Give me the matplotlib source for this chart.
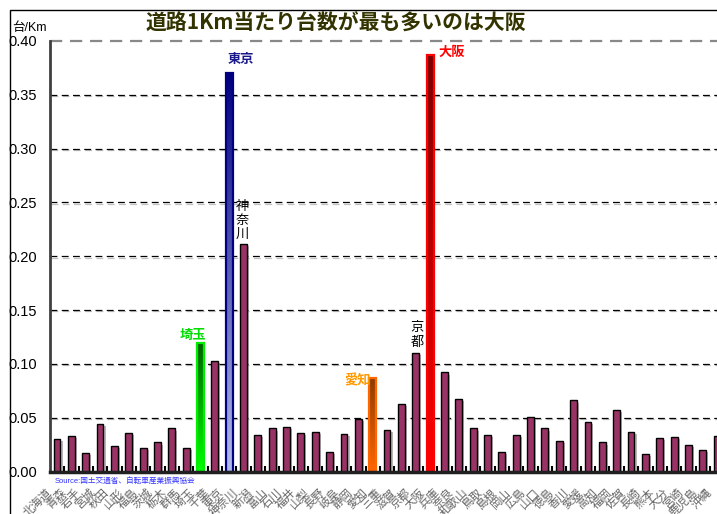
import numpy as np
import matplotlib
matplotlib.use("Agg")
import matplotlib.pyplot as plt
from matplotlib.patches import Rectangle
from matplotlib.colors import to_rgb
from matplotlib.transforms import ScaledTranslation
import matplotlib.patheffects as pe

plt.rcParams['font.family'] = ['Liberation Sans', 'Noto Sans CJK JP', 'DejaVu Sans']

# prefectures and cars per km of road
prefs = ['北海道', '青森', '岩手', '宮城', '秋田', '山形', '福島', '茨城', '栃木', '群馬',
         '埼玉', '千葉', '東京', '神奈川', '新潟', '富山', '石川', '福井', '山梨', '長野',
         '岐阜', '静岡', '愛知', '三重', '滋賀', '京都', '大阪', '兵庫', '奈良', '和歌山',
         '鳥取', '島根', '岡山', '広島', '山口', '徳島', '香川', '愛媛', '高知', '福岡',
         '佐賀', '長崎', '熊本', '大分', '宮崎', '鹿児島', '沖縄']
values = [0.030, 0.033, 0.017, 0.044, 0.024, 0.036, 0.022, 0.027, 0.040, 0.022,
          0.119, 0.103, 0.370, 0.211, 0.034, 0.040, 0.041, 0.036, 0.037, 0.018,
          0.035, 0.049, 0.087, 0.039, 0.063, 0.110, 0.387, 0.092, 0.067, 0.040,
          0.034, 0.018, 0.034, 0.051, 0.040, 0.028, 0.066, 0.046, 0.027, 0.057,
          0.037, 0.016, 0.031, 0.032, 0.025, 0.020, 0.033]
yticks = [0.00, 0.05, 0.10, 0.15, 0.20, 0.25, 0.30, 0.35, 0.40]

# highlighted bars: edge colour, gradient top, gradient bottom
highlight = {
    '埼玉': ('#00ee00', '#006000', '#00ff00'),
    '東京': ('#000080', '#000080', '#b4bbeb'),
    '愛知': ('#ff6600', '#8a3c00', '#ff6600'),
    '大阪': ('#ff0000', '#7a0000', '#ff0000'),
}

W, H = 717, 514
fig = plt.figure(figsize=(W / 100, H / 100), dpi=100)
ax = fig.add_axes([49.8 / W, 42.5 / H, 674.5 / W, 430.5 / H])

x = np.arange(len(prefs))
bw = 0.48
shadow = [pe.SimplePatchShadow(offset=(1.5, -1.5), shadow_rgbFace='#888888', alpha=0.6), pe.Normal()]

for i, (name, v) in enumerate(zip(prefs, values)):
    if name in highlight:
        ec, ctop, cbot = highlight[name]
        bar = ax.bar(i, v, bw, facecolor='none', edgecolor=ec, linewidth=1.6, zorder=3)[0]
        t = np.linspace(0, 1, 200)[:, None]
        grad = (1 - t) * np.array(to_rgb(ctop)) + t * np.array(to_rgb(cbot))
        img = ax.imshow(grad[:, None, :], extent=[i - bw / 2, i + bw / 2, 0, v],
                        aspect='auto', origin='upper', interpolation='bilinear', zorder=2.5)
        img.set_clip_path(bar)
    else:
        ax.bar(i, v, bw, color='#993366', edgecolor='black', linewidth=1.0, zorder=3,
               path_effects=shadow)

# dashed grid
for yv in yticks[1:-1]:
    ax.axhline(yv, color='black', lw=0.9, ls=(0, (5.5, 3.5)), zorder=1,
               path_effects=[pe.SimpleLineShadow(offset=(1, -1), shadow_color='#999999', alpha=0.6), pe.Normal()])
ax.axhline(0.40, color='#888888', lw=1.6, ls=(0, (5.5, 3.5)), zorder=1, clip_on=False)

ax.set_xlim(-0.5, len(prefs) - 0.5)
ax.set_ylim(0, 0.40)
ax.set_yticks(yticks)
ax.set_yticklabels(['%.2f' % v for v in yticks], fontsize=10.5)
ax.tick_params(axis='y', length=0, pad=9)

ax.set_xticks(x)
ax.set_xticklabels(prefs, rotation=45, ha='right', va='center', rotation_mode='anchor',
                   fontsize=8.3, color='#666666')
ax.tick_params(axis='x', which='major', length=0, pad=14)
shift = ScaledTranslation(-7 / 100, 0, fig.dpi_scale_trans)
for lab in ax.get_xticklabels():
    lab.set_transform(lab.get_transform() + shift)
ax.set_xticks(x[:-1] + 0.5, minor=True)
ax.tick_params(axis='x', which='minor', direction='in', length=4, width=1.5, color='black')

for s in ['top', 'right']:
    ax.spines[s].set_visible(False)
ax.spines['left'].set_color('#404040')
ax.spines['left'].set_linewidth(2)
ax.spines['bottom'].set_color('#202020')
ax.spines['bottom'].set_linewidth(2.5)
ax.spines['bottom'].set_zorder(4)

# annotations
idx = {n: i for i, n in enumerate(prefs)}
ax.text(idx['東京'] - 0.1, values[idx['東京']] + 0.007, '東京', color='#1a1a8c',
        fontsize=9.5, weight='bold', ha='left', va='bottom')
ax.text(idx['大阪'] + 0.6, values[idx['大阪']] + 0.002, '大阪', color='#ff0000',
        fontsize=9.5, weight='bold', ha='left', va='center')
ax.text(idx['神奈川'] - 0.1, values[idx['神奈川']] + 0.003, '神\n奈\n川', color='black',
        fontsize=9.5, ha='center', va='bottom', linespacing=1.25)
ax.text(idx['京都'] + 0.1, values[idx['京都']] + 0.004, '京\n都', color='black',
        fontsize=9.5, ha='center', va='bottom', linespacing=1.25)
ax.text(idx['埼玉'] - 0.55, values[idx['埼玉']] + 0.001, '埼玉', color='#00dd00',
        fontsize=9.5, weight='bold', ha='center', va='bottom')
ax.text(idx['愛知'] - 0.1, values[idx['愛知']] - 0.003, '愛知', color='#ff9900',
        fontsize=9.5, weight='bold', ha='right', va='center')

fig.text(336 / W, 1 - 23 / H, '道路1Km当たり台数が最も多いのは大阪', ha='center', va='center',
         fontsize=15, weight='bold', color='#333300', family=['Noto Sans CJK JP', 'DejaVu Sans'])
fig.text(12 / W, 1 - 28 / H, '台/Km', ha='left', va='center', fontsize=9)
fig.text(55 / W, 1 - 481 / H, 'Source:国土交通省、自転車産業振興協会', ha='left', va='center',
         fontsize=5.5, color='#3333ff')

# outer frame
fig.patches.append(Rectangle((9.5 / W, -0.1), 1.2, 1.1 - 10 / H, transform=fig.transFigure,
                             fill=False, lw=1, ec='black'))

fig.savefig('out.png', dpi=100)
